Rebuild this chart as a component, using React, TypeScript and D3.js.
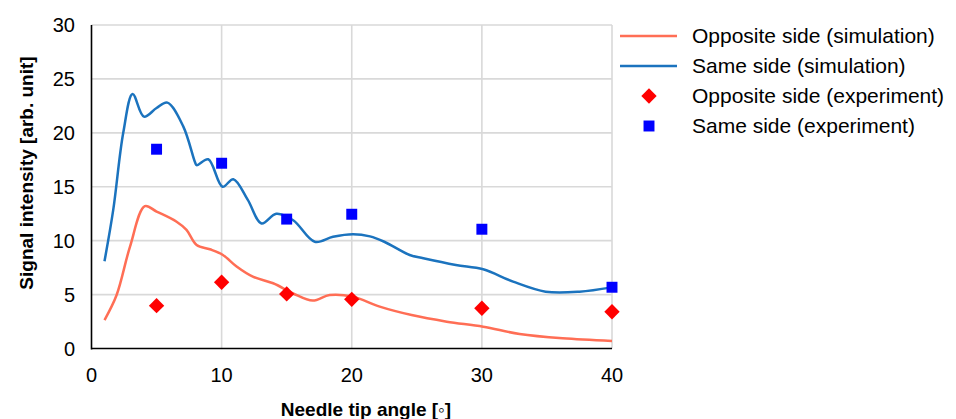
import React from "react";
import * as d3 from "d3";

const sameSimX = [1, 1.67, 2.44, 3.16, 4.03, 5.0, 5.83, 7.05, 7.95, 8.08, 8.97, 10.07, 10.9, 12.0, 13.07, 14.2, 15.5, 17.16, 18.56, 20.1, 21.4, 22.5, 24.45, 25.5, 28.0, 30.1, 32.4, 34.9, 37.5, 40];
const sameSimY = [8.1, 12.85, 20.0, 23.6, 21.5, 22.3, 22.8, 20.6, 17.3, 17.0, 17.55, 15.0, 15.7, 13.8, 11.6, 12.5, 11.9, 9.9, 10.37, 10.6, 10.4, 9.9, 8.67, 8.37, 7.75, 7.35, 6.2, 5.27, 5.27, 5.67];

const oppSimX = [1, 1.93, 2.96, 4.1, 5.0, 6.54, 7.3, 8.08, 9.1, 10.1, 11.15, 12.4, 13.96, 15.5, 17.0, 18.3, 20.1, 22.15, 24.6, 27.3, 30.1, 32.9, 36.2, 40];
const oppSimY = [2.64, 4.96, 9.45, 13.2, 12.7, 11.76, 11.0, 9.6, 9.2, 8.67, 7.6, 6.66, 6.05, 5.1, 4.44, 4.96, 4.8, 3.88, 3.1, 2.49, 2.02, 1.34, 0.94, 0.7];

const expX = [5, 10, 15, 20, 30, 40];
const oppExpY = [3.97, 6.14, 5.06, 4.56, 3.73, 3.41];
const sameExpY = [18.48, 17.18, 12.0, 12.45, 11.06, 5.68];

const xTicks = [0, 10, 20, 30, 40];
const yTicks = [0, 5, 10, 15, 20, 25, 30];

const legendLabels = [
  "Opposite side (simulation)",
  "Same side (simulation)",
  "Opposite side (experiment)",
  "Same side (experiment)",
];

const RED_LINE = "#FF6E55";
const BLUE_LINE = "#1B73BE";
const RED_MK = "#FF0000";
const BLUE_MK = "#0000FF";
const FONT = "'Liberation Sans', Arial, sans-serif";

export default function App() {
  const W = 956, H = 419;
  const x = d3.scaleLinear().domain([0, 40]).range([91.5, 612]);
  const y = d3.scaleLinear().domain([0, 30]).range([348.5, 25]);
  const line = d3
    .line<[number, number]>()
    .x((d) => x(d[0]))
    .y((d) => y(d[1]))
    .curve(d3.curveCatmullRom.alpha(0.5));
  const sameData = sameSimX.map((v, i) => [v, sameSimY[i]] as [number, number]);
  const oppData = oppSimX.map((v, i) => [v, oppSimY[i]] as [number, number]);
  const diamond = d3.symbol().type(d3.symbolDiamond2).size(150)()!;
  const square = d3.symbol().type(d3.symbolSquare).size(120)()!;
  const legY = [36, 66, 96, 126];

  return (
    <svg width={W} height={H} style={{ position: "absolute", left: 0, top: 0, background: "#fff" }} fontFamily={FONT}>
      <rect width={W} height={H} fill="#fff" />
      {yTicks.filter((t) => t > 0).map((t) => (
        <line key={"gy" + t} x1={x(0)} x2={x(40)} y1={y(t)} y2={y(t)} stroke="#d9d9d9" strokeWidth={1.6} />
      ))}
      {xTicks.filter((t) => t > 0).map((t) => (
        <line key={"gx" + t} x1={x(t)} x2={x(t)} y1={y(0)} y2={y(30)} stroke="#d9d9d9" strokeWidth={1.6} />
      ))}
      <line x1={x(0)} x2={x(0)} y1={y(0) + 1} y2={y(30)} stroke="#000" strokeWidth={1.6} />
      <line x1={x(0)} x2={x(40)} y1={y(0)} y2={y(0)} stroke="#000" strokeWidth={1.6} />
      {yTicks.map((t) => (
        <text key={"ty" + t} x={75} y={y(t)} dy="0.35em" textAnchor="end" fontSize={20} fill="#000">
          {t}
        </text>
      ))}
      {xTicks.map((t) => (
        <text key={"tx" + t} x={x(t)} y={382} textAnchor="middle" fontSize={20} fill="#000">
          {t}
        </text>
      ))}
      <text x={366} y={416} textAnchor="middle" fontSize={19} fontWeight="bold" fill="#000">
        Needle tip angle [◦]
      </text>
      <text transform={`translate(33,173) rotate(-90)`} textAnchor="middle" fontSize={19} fontWeight="bold" fill="#000">
        Signal intensity [arb. unit]
      </text>
      <path d={line(oppData)!} fill="none" stroke={RED_LINE} strokeWidth={2.5} />
      <path d={line(sameData)!} fill="none" stroke={BLUE_LINE} strokeWidth={2.5} />
      {expX.map((v, i) => (
        <path key={"od" + i} d={diamond} transform={`translate(${x(v)},${y(oppExpY[i])})`} fill={RED_MK} />
      ))}
      {expX.map((v, i) => (
        <path key={"sd" + i} d={square} transform={`translate(${x(v)},${y(sameExpY[i])})`} fill={BLUE_MK} />
      ))}
      <line x1={620} x2={677} y1={legY[0]} y2={legY[0]} stroke={RED_LINE} strokeWidth={2.5} />
      <line x1={620} x2={677} y1={legY[1]} y2={legY[1]} stroke={BLUE_LINE} strokeWidth={2.5} />
      <path d={diamond} transform={`translate(649,${legY[2]})`} fill={RED_MK} />
      <path d={square} transform={`translate(649,${legY[3]})`} fill={BLUE_MK} />
      {legendLabels.map((l, i) => (
        <text key={"lg" + i} x={692} y={legY[i]} dy="0.35em" fontSize={21} fill="#000">
          {l}
        </text>
      ))}
    </svg>
  );
}
